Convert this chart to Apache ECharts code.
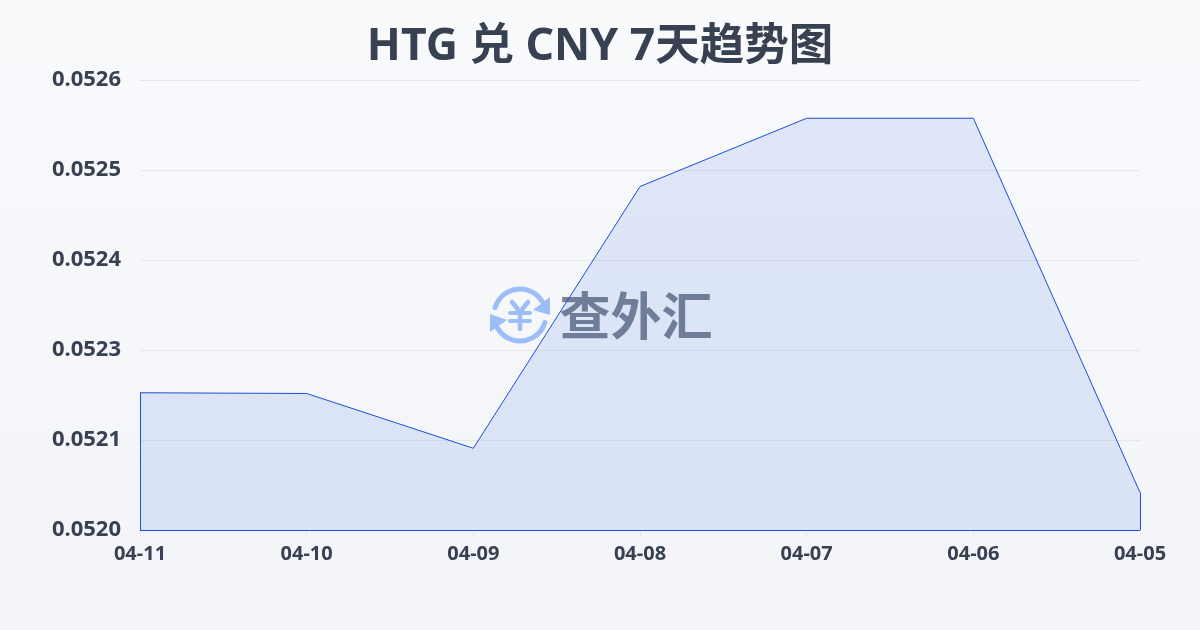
<!DOCTYPE html>
<html><head><meta charset="utf-8">
<style>html,body{margin:0;padding:0;background:#f5f7fa}#c{width:1200px;height:630px}</style>
<script src="https://cdn.jsdelivr.net/npm/echarts@6/dist/echarts.min.js"></script>
</head><body><div id="c"></div>
<script>
const categories = ['04-11','04-10','04-09','04-08','04-07','04-06','04-05'];
const rates = [0.052203,0.052202,0.052129,0.052478,0.052569,0.052569,0.05207];
const yTicks = [0.05202,0.05214,0.05226,0.05238,0.0525,0.05262];
const yMin = 0.05202, yMax = 0.05262;
const titleText = 'HTG 兑 CNY 7天趋势图';
const brandText = '查外汇';
const lineColor = '#1d4ed8';
const fontLatin = '"Noto Sans","Noto Sans CJK SC",sans-serif';
const chart = echarts.init(document.getElementById('c'), null, {renderer:'canvas'});
const last = categories.length-1;
const ic = '#9cbdf5';
chart.setOption({
  animation:false,
  backgroundColor:{type:'linear',x:0,y:0,x2:0,y2:1,colorStops:[{offset:0,color:'#f8fafc'},{offset:1,color:'#f2f4f7'}]},
  title:{text:titleText,left:'center',top:20,textStyle:{fontFamily:fontLatin,fontSize:44.5,fontWeight:'bold',color:'#374151'}},
  grid:{left:140,right:60,top:80,bottom:100},
  xAxis:{type:'category',boundaryGap:false,data:categories,
    axisLine:{show:false},
    axisTick:{show:true,length:8,lineStyle:{color:'#e2e8f0'}},
    axisLabel:{fontFamily:fontLatin,fontSize:20,fontWeight:'bold',color:'#374151',margin:14,showMinLabel:true,showMaxLabel:true,interval:0,hideOverlap:false},
    splitLine:{show:false}},
  yAxis:{type:'value',min:yMin,max:yMax,
    axisLine:{show:false},axisTick:{show:false,customValues:yTicks},
    axisLabel:{fontFamily:fontLatin,fontSize:22,fontWeight:'bold',color:'#374151',margin:19,customValues:yTicks,formatter:v=>v.toFixed(4)},
    splitLine:{show:true,lineStyle:{color:'#e5e7eb',width:1}}},
  series:[{type:'line',data:rates,symbol:'none',smooth:false,
    lineStyle:{color:lineColor,width:1},
    areaStyle:{color:'rgba(30,85,225,0.16)'},
    markLine:{silent:true,symbol:'none',label:{show:false},lineStyle:{color:lineColor,width:1,type:'solid'},animation:false,
      data:[
        [{coord:[categories[0],yMin]},{coord:[categories[0],rates[0]]}],
        [{coord:[categories[0],yMin]},{coord:[categories[last],yMin]}],
        [{coord:[categories[last],yMin]},{coord:[categories[last],rates[last]]}]
      ]}
  }],
  graphic:[
    {type:'group',x:520,y:315,silent:true,children:[
      {type:'arc',shape:{cx:0,cy:0,r:26,startAngle:-2.85,endAngle:-0.55},style:{stroke:ic,lineWidth:5,fill:null,lineCap:'round'}},
      {type:'arc',shape:{cx:0,cy:0,r:26,startAngle:0.3,endAngle:2.6},style:{stroke:ic,lineWidth:5,fill:null,lineCap:'round'}},
      {type:'polygon',shape:{points:[[30,-18],[30,0],[13,-5]]},style:{fill:ic}},
      {type:'polygon',shape:{points:[[-30,17],[-30,-1],[-13,5]]},style:{fill:ic}},
      {type:'polyline',shape:{points:[[-8,-13],[0,-3],[8,-13]]},style:{stroke:ic,lineWidth:4.5,fill:null,lineCap:'round',lineJoin:'round'}},
      {type:'line',shape:{x1:-10,y1:-2,x2:10,y2:-2},style:{stroke:ic,lineWidth:4,lineCap:'round'}},
      {type:'line',shape:{x1:-10,y1:6,x2:10,y2:6},style:{stroke:ic,lineWidth:4,lineCap:'round'}},
      {type:'line',shape:{x1:0,y1:-3,x2:0,y2:14},style:{stroke:ic,lineWidth:4.5,lineCap:'round'}}
    ]},
    {type:'text',x:636,y:316,silent:true,style:{text:brandText,align:'center',verticalAlign:'middle',font:'700 51px "Noto Sans CJK SC"',fill:'#7a8290'}}
  ]
});
</script></body></html>
